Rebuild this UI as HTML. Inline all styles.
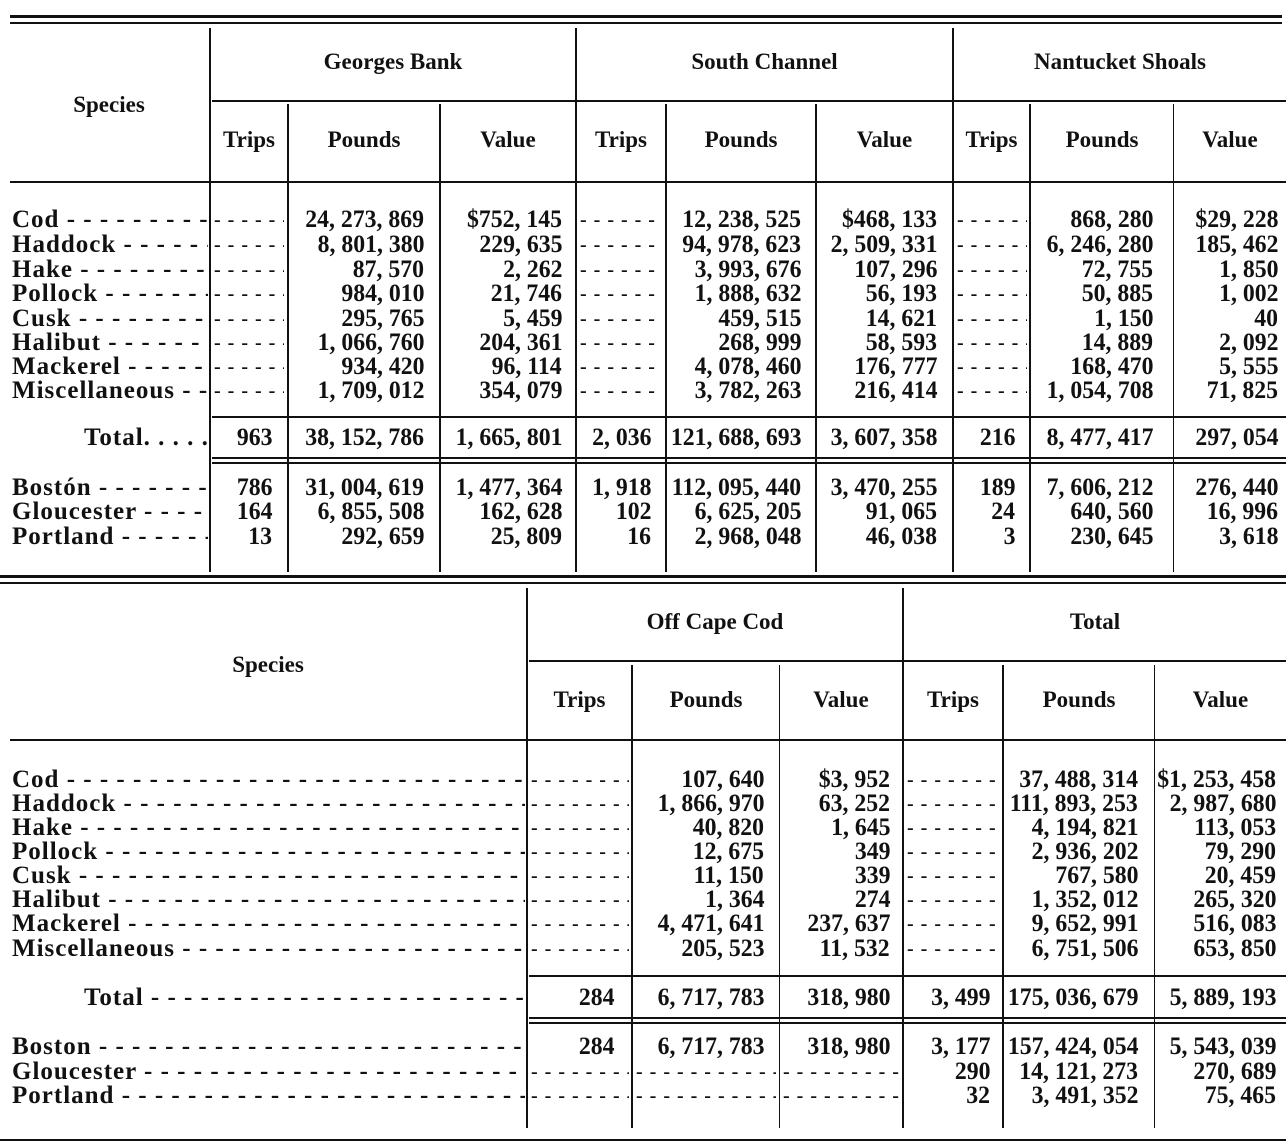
<!DOCTYPE html>
<html><head><meta charset="utf-8"><style>
body{margin:0;background:#fff;}
#c{position:relative;width:1286px;height:1145px;overflow:hidden;background:#fff;font-family:"Liberation Serif",serif;font-weight:bold;color:#111;}
.h{position:absolute;background:#111;}
.t{position:absolute;height:26px;line-height:26px;font-size:25px;white-space:nowrap;transform:scaleX(.95);transform-origin:right center;}
.l{position:absolute;height:26px;line-height:26px;font-size:25px;white-space:nowrap;overflow:hidden;letter-spacing:1px;}
.l span{display:inline-block;}
.d{position:absolute;height:26px;line-height:26px;font-size:20px;white-space:nowrap;overflow:hidden;letter-spacing:1px;}
.g{position:absolute;font-size:23px;line-height:26px;text-align:center;white-space:nowrap;}
</style></head><body><div id="c">
<div class="h" style="left:10px;top:15px;width:1272px;height:3px"></div>
<div class="h" style="left:10px;top:22px;width:1272px;height:2px"></div>
<div class="h" style="left:209px;top:28px;width:2px;height:544px"></div>
<div class="h" style="left:287px;top:104px;width:2px;height:468px"></div>
<div class="h" style="left:439px;top:104px;width:2px;height:468px"></div>
<div class="h" style="left:575px;top:28px;width:2px;height:544px"></div>
<div class="h" style="left:665px;top:104px;width:2px;height:468px"></div>
<div class="h" style="left:815px;top:104px;width:2px;height:468px"></div>
<div class="h" style="left:952px;top:28px;width:2px;height:544px"></div>
<div class="h" style="left:1029px;top:104px;width:2px;height:468px"></div>
<div class="h" style="left:1173px;top:104px;width:1px;height:468px"></div>
<div class="h" style="left:212px;top:100px;width:1074px;height:2px"></div>
<div class="h" style="left:10px;top:181px;width:1276px;height:2px"></div>
<div class="h" style="left:212px;top:416px;width:1074px;height:2px"></div>
<div class="h" style="left:212px;top:457px;width:1074px;height:2px"></div>
<div class="h" style="left:212px;top:462px;width:1074px;height:2px"></div>
<div class="g" style="left:10px;top:92px;width:198px">Species</div>
<div class="g" style="left:211px;top:49px;width:364px">Georges Bank</div>
<div class="g" style="left:577px;top:49px;width:375px">South Channel</div>
<div class="g" style="left:954px;top:49px;width:332px">Nantucket Shoals</div>
<div class="g" style="left:211px;top:127px;width:76px">Trips</div>
<div class="g" style="left:289px;top:127px;width:150px">Pounds</div>
<div class="g" style="left:441px;top:127px;width:134px">Value</div>
<div class="g" style="left:577px;top:127px;width:88px">Trips</div>
<div class="g" style="left:667px;top:127px;width:148px">Pounds</div>
<div class="g" style="left:817px;top:127px;width:135px">Value</div>
<div class="g" style="left:954px;top:127px;width:75px">Trips</div>
<div class="g" style="left:1031px;top:127px;width:142px">Pounds</div>
<div class="g" style="left:1174px;top:127px;width:112px">Value</div>

<div class="l" style="left:12px;top:207px;width:196px"><span>Cod - - - - - - - - - - - - - - - - - - - - - - - -</span></div>
<div class="l" style="left:12px;top:232px;width:196px"><span>Haddock - - - - - - - - - - - - - - - - - - - -</span></div>
<div class="l" style="left:12px;top:257px;width:196px"><span>Hake - - - - - - - - - - - - - - - - - - - - - - -</span></div>
<div class="l" style="left:12px;top:281px;width:196px"><span>Pollock - - - - - - - - - - - - - - - - - - - - -</span></div>
<div class="l" style="left:12px;top:306px;width:196px"><span>Cusk - - - - - - - - - - - - - - - - - - - - - - -</span></div>
<div class="l" style="left:12px;top:330px;width:196px"><span>Halibut - - - - - - - - - - - - - - - - - - - - -</span></div>
<div class="l" style="left:12px;top:354px;width:196px"><span>Mackerel - - - - - - - - - - - - - - - - - - -</span></div>
<div class="l" style="left:12px;top:378px;width:196px"><span>Miscellaneous - - - - - - - - - - - -</span></div>
<div class="l" style="left:84px;top:425px;width:124px"><span>Total. . . . . . . . .</span></div>
<div class="l" style="left:12px;top:475px;width:196px"><span>Bostón - - - - - - - - - - - - - - - - - - - -</span></div>
<div class="l" style="left:12px;top:499px;width:196px"><span>Gloucester - - - - - - - - - - - - - - - -</span></div>
<div class="l" style="left:12px;top:524px;width:196px"><span>Portland - - - - - - - - - - - - - - - - - -</span></div>
<div class="d" style="left:214px;top:207px;width:70px">- - - - - - - -</div>
<div class="d" style="left:214px;top:232px;width:70px">- - - - - - - -</div>
<div class="d" style="left:214px;top:257px;width:70px">- - - - - - - -</div>
<div class="d" style="left:214px;top:281px;width:70px">- - - - - - - -</div>
<div class="d" style="left:214px;top:306px;width:70px">- - - - - - - -</div>
<div class="d" style="left:214px;top:330px;width:70px">- - - - - - - -</div>
<div class="d" style="left:214px;top:354px;width:70px">- - - - - - - -</div>
<div class="d" style="left:214px;top:378px;width:70px">- - - - - - - -</div>
<div class="d" style="left:580px;top:207px;width:82px">- - - - - - - - - -</div>
<div class="d" style="left:580px;top:232px;width:82px">- - - - - - - - - -</div>
<div class="d" style="left:580px;top:257px;width:82px">- - - - - - - - - -</div>
<div class="d" style="left:580px;top:281px;width:82px">- - - - - - - - - -</div>
<div class="d" style="left:580px;top:306px;width:82px">- - - - - - - - - -</div>
<div class="d" style="left:580px;top:330px;width:82px">- - - - - - - - - -</div>
<div class="d" style="left:580px;top:354px;width:82px">- - - - - - - - - -</div>
<div class="d" style="left:580px;top:378px;width:82px">- - - - - - - - - -</div>
<div class="d" style="left:957px;top:207px;width:70px">- - - - - - - -</div>
<div class="d" style="left:957px;top:232px;width:70px">- - - - - - - -</div>
<div class="d" style="left:957px;top:257px;width:70px">- - - - - - - -</div>
<div class="d" style="left:957px;top:281px;width:70px">- - - - - - - -</div>
<div class="d" style="left:957px;top:306px;width:70px">- - - - - - - -</div>
<div class="d" style="left:957px;top:330px;width:70px">- - - - - - - -</div>
<div class="d" style="left:957px;top:354px;width:70px">- - - - - - - -</div>
<div class="d" style="left:957px;top:378px;width:70px">- - - - - - - -</div>

<div class="t" style="right:862px;top:207px">24, 273, 869</div><div class="t" style="right:724px;top:207px">$752, 145</div><div class="t" style="right:485px;top:207px">12, 238, 525</div><div class="t" style="right:349px;top:207px">$468, 133</div><div class="t" style="right:133px;top:207px">868, 280</div><div class="t" style="right:8px;top:207px">$29, 228</div>
<div class="t" style="right:862px;top:232px">8, 801, 380</div><div class="t" style="right:724px;top:232px">229, 635</div><div class="t" style="right:485px;top:232px">94, 978, 623</div><div class="t" style="right:349px;top:232px">2, 509, 331</div><div class="t" style="right:133px;top:232px">6, 246, 280</div><div class="t" style="right:8px;top:232px">185, 462</div>
<div class="t" style="right:862px;top:257px">87, 570</div><div class="t" style="right:724px;top:257px">2, 262</div><div class="t" style="right:485px;top:257px">3, 993, 676</div><div class="t" style="right:349px;top:257px">107, 296</div><div class="t" style="right:133px;top:257px">72, 755</div><div class="t" style="right:8px;top:257px">1, 850</div>
<div class="t" style="right:862px;top:281px">984, 010</div><div class="t" style="right:724px;top:281px">21, 746</div><div class="t" style="right:485px;top:281px">1, 888, 632</div><div class="t" style="right:349px;top:281px">56, 193</div><div class="t" style="right:133px;top:281px">50, 885</div><div class="t" style="right:8px;top:281px">1, 002</div>
<div class="t" style="right:862px;top:306px">295, 765</div><div class="t" style="right:724px;top:306px">5, 459</div><div class="t" style="right:485px;top:306px">459, 515</div><div class="t" style="right:349px;top:306px">14, 621</div><div class="t" style="right:133px;top:306px">1, 150</div><div class="t" style="right:8px;top:306px">40</div>
<div class="t" style="right:862px;top:330px">1, 066, 760</div><div class="t" style="right:724px;top:330px">204, 361</div><div class="t" style="right:485px;top:330px">268, 999</div><div class="t" style="right:349px;top:330px">58, 593</div><div class="t" style="right:133px;top:330px">14, 889</div><div class="t" style="right:8px;top:330px">2, 092</div>
<div class="t" style="right:862px;top:354px">934, 420</div><div class="t" style="right:724px;top:354px">96, 114</div><div class="t" style="right:485px;top:354px">4, 078, 460</div><div class="t" style="right:349px;top:354px">176, 777</div><div class="t" style="right:133px;top:354px">168, 470</div><div class="t" style="right:8px;top:354px">5, 555</div>
<div class="t" style="right:862px;top:378px">1, 709, 012</div><div class="t" style="right:724px;top:378px">354, 079</div><div class="t" style="right:485px;top:378px">3, 782, 263</div><div class="t" style="right:349px;top:378px">216, 414</div><div class="t" style="right:133px;top:378px">1, 054, 708</div><div class="t" style="right:8px;top:378px">71, 825</div>
<div class="t" style="right:1014px;top:425px">963</div><div class="t" style="right:862px;top:425px">38, 152, 786</div><div class="t" style="right:724px;top:425px">1, 665, 801</div><div class="t" style="right:635px;top:425px">2, 036</div><div class="t" style="right:485px;top:425px">121, 688, 693</div><div class="t" style="right:349px;top:425px">3, 607, 358</div><div class="t" style="right:271px;top:425px">216</div><div class="t" style="right:133px;top:425px">8, 477, 417</div><div class="t" style="right:8px;top:425px">297, 054</div>
<div class="t" style="right:1014px;top:475px">786</div><div class="t" style="right:862px;top:475px">31, 004, 619</div><div class="t" style="right:724px;top:475px">1, 477, 364</div><div class="t" style="right:635px;top:475px">1, 918</div><div class="t" style="right:485px;top:475px">112, 095, 440</div><div class="t" style="right:349px;top:475px">3, 470, 255</div><div class="t" style="right:271px;top:475px">189</div><div class="t" style="right:133px;top:475px">7, 606, 212</div><div class="t" style="right:8px;top:475px">276, 440</div>
<div class="t" style="right:1014px;top:499px">164</div><div class="t" style="right:862px;top:499px">6, 855, 508</div><div class="t" style="right:724px;top:499px">162, 628</div><div class="t" style="right:635px;top:499px">102</div><div class="t" style="right:485px;top:499px">6, 625, 205</div><div class="t" style="right:349px;top:499px">91, 065</div><div class="t" style="right:271px;top:499px">24</div><div class="t" style="right:133px;top:499px">640, 560</div><div class="t" style="right:8px;top:499px">16, 996</div>
<div class="t" style="right:1014px;top:524px">13</div><div class="t" style="right:862px;top:524px">292, 659</div><div class="t" style="right:724px;top:524px">25, 809</div><div class="t" style="right:635px;top:524px">16</div><div class="t" style="right:485px;top:524px">2, 968, 048</div><div class="t" style="right:349px;top:524px">46, 038</div><div class="t" style="right:271px;top:524px">3</div><div class="t" style="right:133px;top:524px">230, 645</div><div class="t" style="right:8px;top:524px">3, 618</div>

<div class="h" style="left:0;top:575px;width:1286px;height:3px"></div>
<div class="h" style="left:0;top:582px;width:1286px;height:2px"></div>
<div class="h" style="left:526px;top:588px;width:2px;height:540px"></div>
<div class="h" style="left:631px;top:665px;width:2px;height:463px"></div>
<div class="h" style="left:779px;top:665px;width:1px;height:463px"></div>
<div class="h" style="left:902px;top:588px;width:2px;height:540px"></div>
<div class="h" style="left:1002px;top:665px;width:2px;height:463px"></div>
<div class="h" style="left:1154px;top:665px;width:1px;height:463px"></div>
<div class="h" style="left:529px;top:660px;width:757px;height:2px"></div>
<div class="h" style="left:10px;top:739px;width:1276px;height:2px"></div>
<div class="h" style="left:529px;top:975px;width:757px;height:2px"></div>
<div class="h" style="left:529px;top:1017px;width:757px;height:2px"></div>
<div class="h" style="left:529px;top:1022px;width:757px;height:2px"></div>
<div class="h" style="left:0;top:1139px;width:1286px;height:2px"></div>
<div class="g" style="left:10px;top:652px;width:516px">Species</div>
<div class="g" style="left:528px;top:609px;width:374px">Off Cape Cod</div>
<div class="g" style="left:904px;top:609px;width:382px">Total</div>
<div class="g" style="left:528px;top:687px;width:103px">Trips</div>
<div class="g" style="left:633px;top:687px;width:146px">Pounds</div>
<div class="g" style="left:780px;top:687px;width:122px">Value</div>
<div class="g" style="left:904px;top:687px;width:98px">Trips</div>
<div class="g" style="left:1004px;top:687px;width:150px">Pounds</div>
<div class="g" style="left:1155px;top:687px;width:131px">Value</div>
<div class="l" style="left:12px;top:767px;width:513px"><span>Cod - - - - - - - - - - - - - - - - - - - - - - - - - - - - - - - - - - - - - - - - - - - - - - - - - - - - - - - - - - - - - - -</span></div>
<div class="l" style="left:12px;top:791px;width:513px"><span>Haddock - - - - - - - - - - - - - - - - - - - - - - - - - - - - - - - - - - - - - - - - - - - - - - - - - - - - - - - - - - - -</span></div>
<div class="l" style="left:12px;top:815px;width:513px"><span>Hake - - - - - - - - - - - - - - - - - - - - - - - - - - - - - - - - - - - - - - - - - - - - - - - - - - - - - - - - - - - - - -</span></div>
<div class="l" style="left:12px;top:839px;width:513px"><span>Pollock - - - - - - - - - - - - - - - - - - - - - - - - - - - - - - - - - - - - - - - - - - - - - - - - - - - - - - - - - - - - -</span></div>
<div class="l" style="left:12px;top:863px;width:513px"><span>Cusk - - - - - - - - - - - - - - - - - - - - - - - - - - - - - - - - - - - - - - - - - - - - - - - - - - - - - - - - - - - - - - -</span></div>
<div class="l" style="left:12px;top:887px;width:513px"><span>Halibut - - - - - - - - - - - - - - - - - - - - - - - - - - - - - - - - - - - - - - - - - - - - - - - - - - - - - - - - - - - - - -</span></div>
<div class="l" style="left:12px;top:911px;width:513px"><span>Mackerel - - - - - - - - - - - - - - - - - - - - - - - - - - - - - - - - - - - - - - - - - - - - - - - - - - - - - - - - - - - -</span></div>
<div class="l" style="left:12px;top:936px;width:513px"><span>Miscellaneous - - - - - - - - - - - - - - - - - - - - - - - - - - - - - - - - - - - - - - - - - - - - - - - - - - - - - - -</span></div>
<div class="l" style="left:84px;top:985px;width:441px"><span>Total - - - - - - - - - - - - - - - - - - - - - - - - - - - - - - - - - - - - - - - - - - - - - - - - - - - - - - - - - - - - - -</span></div>
<div class="l" style="left:12px;top:1034px;width:513px"><span>Boston - - - - - - - - - - - - - - - - - - - - - - - - - - - - - - - - - - - - - - - - - - - - - - - - - - - - - - - - - - - - - -</span></div>
<div class="l" style="left:12px;top:1059px;width:513px"><span>Gloucester - - - - - - - - - - - - - - - - - - - - - - - - - - - - - - - - - - - - - - - - - - - - - - - - - - - - - - - - - - -</span></div>
<div class="l" style="left:12px;top:1083px;width:513px"><span>Portland - - - - - - - - - - - - - - - - - - - - - - - - - - - - - - - - - - - - - - - - - - - - - - - - - - - - - - - - - - - - -</span></div>
<div class="d" style="left:531px;top:767px;width:98px">- - - - - - - - - - - -</div>
<div class="d" style="left:531px;top:791px;width:98px">- - - - - - - - - - - -</div>
<div class="d" style="left:531px;top:815px;width:98px">- - - - - - - - - - - -</div>
<div class="d" style="left:531px;top:839px;width:98px">- - - - - - - - - - - -</div>
<div class="d" style="left:531px;top:863px;width:98px">- - - - - - - - - - - -</div>
<div class="d" style="left:531px;top:887px;width:98px">- - - - - - - - - - - -</div>
<div class="d" style="left:531px;top:911px;width:98px">- - - - - - - - - - - -</div>
<div class="d" style="left:531px;top:936px;width:98px">- - - - - - - - - - - -</div>
<div class="d" style="left:907px;top:767px;width:93px">- - - - - - - - - - - -</div>
<div class="d" style="left:907px;top:791px;width:93px">- - - - - - - - - - - -</div>
<div class="d" style="left:907px;top:815px;width:93px">- - - - - - - - - - - -</div>
<div class="d" style="left:907px;top:839px;width:93px">- - - - - - - - - - - -</div>
<div class="d" style="left:907px;top:863px;width:93px">- - - - - - - - - - - -</div>
<div class="d" style="left:907px;top:887px;width:93px">- - - - - - - - - - - -</div>
<div class="d" style="left:907px;top:911px;width:93px">- - - - - - - - - - - -</div>
<div class="d" style="left:907px;top:936px;width:93px">- - - - - - - - - - - -</div>
<div class="d" style="left:531px;top:1059px;width:98px">- - - - - - - - - - - -</div>
<div class="d" style="left:531px;top:1083px;width:98px">- - - - - - - - - - - -</div>
<div class="d" style="left:636px;top:1059px;width:140px">- - - - - - - - - - - - - - - - -</div>
<div class="d" style="left:636px;top:1083px;width:140px">- - - - - - - - - - - - - - - - -</div>
<div class="d" style="left:783px;top:1059px;width:116px">- - - - - - - - - - - - - -</div>
<div class="d" style="left:783px;top:1083px;width:116px">- - - - - - - - - - - - - -</div>
<div class="t" style="right:522px;top:767px">107, 640</div><div class="t" style="right:396px;top:767px">$3, 952</div><div class="t" style="right:148px;top:767px">37, 488, 314</div><div class="t" style="right:10px;top:767px">$1, 253, 458</div>
<div class="t" style="right:522px;top:791px">1, 866, 970</div><div class="t" style="right:396px;top:791px">63, 252</div><div class="t" style="right:148px;top:791px">111, 893, 253</div><div class="t" style="right:10px;top:791px">2, 987, 680</div>
<div class="t" style="right:522px;top:815px">40, 820</div><div class="t" style="right:396px;top:815px">1, 645</div><div class="t" style="right:148px;top:815px">4, 194, 821</div><div class="t" style="right:10px;top:815px">113, 053</div>
<div class="t" style="right:522px;top:839px">12, 675</div><div class="t" style="right:396px;top:839px">349</div><div class="t" style="right:148px;top:839px">2, 936, 202</div><div class="t" style="right:10px;top:839px">79, 290</div>
<div class="t" style="right:522px;top:863px">11, 150</div><div class="t" style="right:396px;top:863px">339</div><div class="t" style="right:148px;top:863px">767, 580</div><div class="t" style="right:10px;top:863px">20, 459</div>
<div class="t" style="right:522px;top:887px">1, 364</div><div class="t" style="right:396px;top:887px">274</div><div class="t" style="right:148px;top:887px">1, 352, 012</div><div class="t" style="right:10px;top:887px">265, 320</div>
<div class="t" style="right:522px;top:911px">4, 471, 641</div><div class="t" style="right:396px;top:911px">237, 637</div><div class="t" style="right:148px;top:911px">9, 652, 991</div><div class="t" style="right:10px;top:911px">516, 083</div>
<div class="t" style="right:522px;top:936px">205, 523</div><div class="t" style="right:396px;top:936px">11, 532</div><div class="t" style="right:148px;top:936px">6, 751, 506</div><div class="t" style="right:10px;top:936px">653, 850</div>
<div class="t" style="right:672px;top:985px">284</div><div class="t" style="right:522px;top:985px">6, 717, 783</div><div class="t" style="right:396px;top:985px">318, 980</div><div class="t" style="right:296px;top:985px">3, 499</div><div class="t" style="right:148px;top:985px">175, 036, 679</div><div class="t" style="right:10px;top:985px">5, 889, 193</div>
<div class="t" style="right:672px;top:1034px">284</div><div class="t" style="right:522px;top:1034px">6, 717, 783</div><div class="t" style="right:396px;top:1034px">318, 980</div><div class="t" style="right:296px;top:1034px">3, 177</div><div class="t" style="right:148px;top:1034px">157, 424, 054</div><div class="t" style="right:10px;top:1034px">5, 543, 039</div>
<div class="t" style="right:296px;top:1059px">290</div><div class="t" style="right:148px;top:1059px">14, 121, 273</div><div class="t" style="right:10px;top:1059px">270, 689</div>
<div class="t" style="right:296px;top:1083px">32</div><div class="t" style="right:148px;top:1083px">3, 491, 352</div><div class="t" style="right:10px;top:1083px">75, 465</div>
</div></body></html>
